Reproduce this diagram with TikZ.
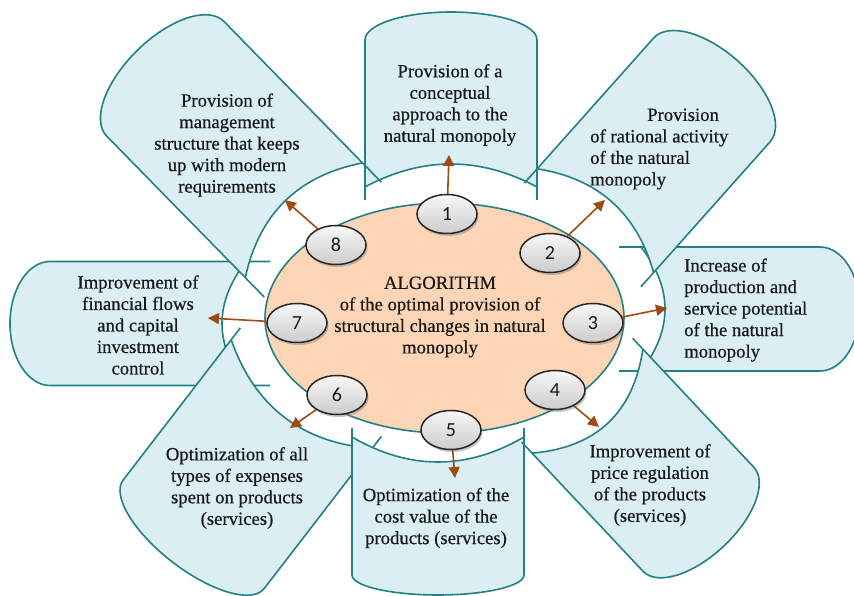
\documentclass[tikz,border=0pt]{standalone}
\usepackage{fontspec}
\setmainfont{Liberation Serif}
\newfontfamily\txtfont{Liberation Serif}[FakeBold=0.5]
\newfontfamily\numfont{Carlito}
\usetikzlibrary{arrows.meta,shadows,shapes.geometric}
\definecolor{petalfill}{HTML}{DAEEF3}
\definecolor{petaledge}{RGB}{36,128,130}
\definecolor{corefill}{HTML}{FBD5B5}
\definecolor{arrowc}{RGB}{156,75,20}
\tikzset{
  petal/.style={draw=petaledge, line width=1.6pt, line join=round},
  oval/.style={ellipse, draw=black!85, line width=1.5pt, minimum width=60pt, minimum height=39pt,
    inner sep=0pt, top color=gray!6, bottom color=gray!40,
    drop shadow={shadow xshift=1.5pt,shadow yshift=-2.5pt,opacity=0.45},
    font=\numfont\fontsize{20}{20}\selectfont, text=black!90},
  conn/.style={draw=arrowc, line width=1.6pt, -{Triangle[length=11pt,width=11pt]}},
  ptext/.style={font=\txtfont\fontsize{18.7}{21.5}\selectfont, text=black!90, inner sep=0pt},
}
% #1,#2 inner point; #3 angle; #4 half width; #5 length; #6 cap height; #7 arc depth; #8 overshoot
\newcommand\drawpetal[8]{%
  \begin{scope}[shift={(#1,#2)}, rotate=#3]
    \fill[petalfill] ({-#7},{#4}) -- ({#5},{#4})
      arc[start angle=90,end angle=-90,x radius=#6pt,y radius=#4pt] -- ({-#7},{-#4})
      .. controls ({#7/3},{-#4/3}) and ({#7/3},{#4/3}) .. ({-#7},{#4}) -- cycle;
    \draw[petal] ({-#7-#8},{#4}) -- ({#5},{#4})
      arc[start angle=90,end angle=-90,x radius=#6pt,y radius=#4pt] -- ({-#7-#8},{-#4});
    \draw[petal] ({-#7},{-#4}) .. controls ({#7/3},{-#4/3}) and ({#7/3},{#4/3}) .. ({-#7},{#4});
  \end{scope}}
\begin{document}
\begin{tikzpicture}[x=1pt,y=1pt]
\useasboundingbox (0,0) rectangle (854,595);
\clip (0,0) rectangle (854,595);
\fill[white] (0,0) rectangle (854,595);
% petals
\drawpetal{451}{431}{90}{86}{124}{28}{23}{13}
\drawpetal{665}{286}{0}{62}{155}{40}{24}{22}
\drawpetal{222}{271.5}{180}{62}{172}{40}{24}{24}
\drawpetal{284}{178}{232.4}{89}{148}{35}{29}{15}
\drawpetal{438}{133}{-90}{86}{113}{20}{25}{9}
\drawpetal{608}{172}{-46.8}{76}{132}{37}{30}{15}
\drawpetal{612}{393}{48.3}{78}{150}{39}{25}{19}
\drawpetal{285}{394}{134.4}{82}{171}{40}{27}{27}
% core
\node[ellipse, draw=petaledge, line width=1.6pt, fill=corefill, minimum width=359pt, minimum height=230pt, inner sep=0pt] (core) at (444.5,277) {};
\node[ptext, align=center] (algo) at (440,278) {ALGORITHM\\of the optimal provision of\\structural changes in natural\\monopoly};
% ovals
\node[oval] (o1) at (447,381) {1};
\node[oval] (o2) at (550,342) {2};
\node[oval] (o3) at (593,272) {3};
\node[oval] (o4) at (555,205) {4};
\node[oval] (o5) at (451,165) {5};
\node[oval] (o6) at (337,200) {6};
\node[oval] (o7) at (297,272) {7};
\node[oval] (o8) at (336,350) {8};
% arrow tips
\coordinate (t1) at (449,440);
\coordinate (t2) at (605,395);
\coordinate (t3) at (667,287);
\coordinate (t4) at (599,168);
\coordinate (t5) at (455,117);
\coordinate (t6) at (290,167);
\coordinate (t7) at (208,277);
\coordinate (t8) at (285,395);
\foreach \i in {1,...,8} \draw[conn] (o\i) -- (t\i);
% texts
\node[ptext, align=center] (p1) at (450,490) {Provision of a\\conceptual\\approach to the\\natural monopoly};
\node[ptext, align=left, anchor=west] (p2) at (590,446) {\hspace*{57pt}Provision\\of rational activity\\of the natural\\monopoly};
\node[ptext, align=left, anchor=west] (p3) at (684,285) {Increase of\\production and\\service potential\\of the natural\\monopoly};
\node[ptext, align=center] (p4) at (650,110) {Improvement of\\price regulation\\of the products\\(services)};
\node[ptext, align=center] (p5) at (436,77) {Optimization of the\\cost value of the\\products (services)};
\node[ptext, align=center] (p6) at (237,107) {Optimization of all\\types of expenses\\spent on products\\(services)};
\node[ptext, align=center] (p7) at (138,270) {Improvement of\\financial flows\\and capital\\investment\\control};
\node[ptext, align=center] (p8) at (227,450) {Provision of\\management\\structure that keeps\\up with modern\\requirements};
\end{tikzpicture}
\end{document}
